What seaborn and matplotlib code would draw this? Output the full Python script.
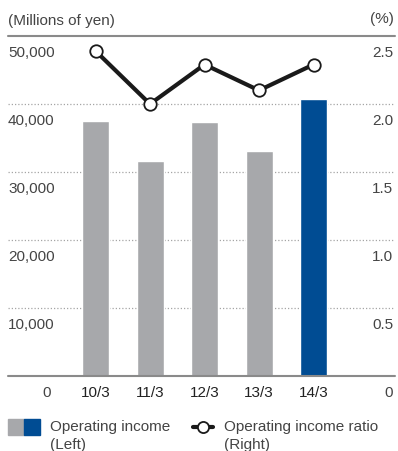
import matplotlib
matplotlib.use("Agg")
import matplotlib.pyplot as plt
import matplotlib.transforms as mtransforms
from matplotlib.patches import Rectangle
from matplotlib.lines import Line2D
import numpy as np
import pandas as pd
import seaborn as sns

categories = ["10/3", "11/3", "12/3", "13/3", "14/3"]
income = [37500, 31600, 37400, 33100, 40700]
ratio = [2.39, 2.00, 2.29, 2.10, 2.29]
left_ticks = [0, 10000, 20000, 30000, 40000, 50000]
left_labels = ["0", "10,000", "20,000", "30,000", "40,000", "50,000"]
right_ticks = [0, 0.5, 1.0, 1.5, 2.0, 2.5]
right_labels = ["0", "0.5", "1.0", "1.5", "2.0", "2.5"]

GRAY = "#a7a8ab"
BLUE = "#004c93"
TXT = "#444444"

sns.set_theme(style="white")
plt.rcParams["font.family"] = ["Liberation Sans", "DejaVu Sans"]

fig = plt.figure(figsize=(3.98, 4.52), dpi=100)
ax = fig.add_axes([8/398, 1-377/452, 387/398, 340/452])

df = pd.DataFrame({"cat": categories, "income": income})
sns.barplot(data=df, x="cat", y="income", hue="cat",
            palette=[GRAY, GRAY, GRAY, GRAY, BLUE], legend=False,
            width=0.495, saturation=1, ax=ax)
ax.set_xlim(-1.606, 5.495)
ax.set_ylim(0, 50000)
for s in ax.spines.values():
    s.set_visible(False)
ax.set_xticks([])
ax.set_yticks([])
ax.set_xlabel("")
ax.set_ylabel("")

# gridlines
for t in left_ticks[1:-1]:
    ax.axhline(t, color="#a5a5a5", lw=0.9, ls=(0, (1, 1.6)), zorder=0)
ax.axhline(0, color="#8a8a8a", lw=1.5, zorder=3, clip_on=False)
ax.axhline(50000, color="#8a8a8a", lw=1.5, zorder=3, clip_on=False)

ax2 = ax.twinx()
ax2.set_ylim(0, 2.5)
sns.lineplot(x=np.arange(len(categories)), y=ratio, ax=ax2, color="#1a1a1a",
             lw=3, marker="o", markersize=9, markerfacecolor="white",
             markeredgecolor="#1a1a1a", markeredgewidth=1.3)
ax2.set_xlim(-1.606, 5.495)
for s in ax2.spines.values():
    s.set_visible(False)
ax2.set_yticks([])
ax2.set_xticks([])
ax2.set_ylabel("")

fs = 11
trl = mtransforms.blended_transform_factory(ax.transAxes, ax.transData)
for v, lab in zip(left_ticks, left_labels):
    x = 0.0 if v != 0 else 0.10
    ax.text(x, v - 1300, lab, transform=trl, ha="left" if v != 0 else "center",
            va="top", fontsize=fs, color=TXT)
trr = mtransforms.blended_transform_factory(ax2.transAxes, ax2.transData)
for v, lab in zip(right_ticks, right_labels):
    ax2.text(0.995, v - 0.065, lab, transform=trr, ha="right", va="top",
             fontsize=fs, color=TXT)
for i, c in enumerate(categories):
    ax.text(i, -1300, c, ha="center", va="top", fontsize=fs, color="#222222")

fig.text(8/398, 1-21/452, "(Millions of yen)", ha="left", va="center",
         fontsize=fs, color=TXT)
fig.text(394/398, 1-19/452, "(%)", ha="right", va="center",
         fontsize=fs, color=TXT)

# legend
fig.patches.append(Rectangle((8/398, 1-436/452), 16/398, 16/452,
                             transform=fig.transFigure, color=GRAY))
fig.patches.append(Rectangle((24/398, 1-436/452), 16/398, 16/452,
                             transform=fig.transFigure, color=BLUE))
fig.text(50/398, 1-427/452, "Operating income", ha="left", va="center",
         fontsize=fs, color=TXT)
fig.text(50/398, 1-445/452, "(Left)", ha="left", va="center",
         fontsize=fs, color=TXT)
fig.lines.append(Line2D([193/398, 213/398], [1-428/452, 1-428/452],
                        transform=fig.transFigure, color="#1a1a1a", lw=3))
fig.lines.append(Line2D([203/398], [1-428/452], transform=fig.transFigure,
                        marker="o", markersize=8, markerfacecolor="white",
                        markeredgecolor="#1a1a1a", markeredgewidth=1.3, lw=0))
fig.text(224/398, 1-427/452, "Operating income ratio", ha="left", va="center",
         fontsize=fs, color=TXT)
fig.text(224/398, 1-445/452, "(Right)", ha="left", va="center",
         fontsize=fs, color=TXT)

fig.savefig("out.png", dpi=100)
